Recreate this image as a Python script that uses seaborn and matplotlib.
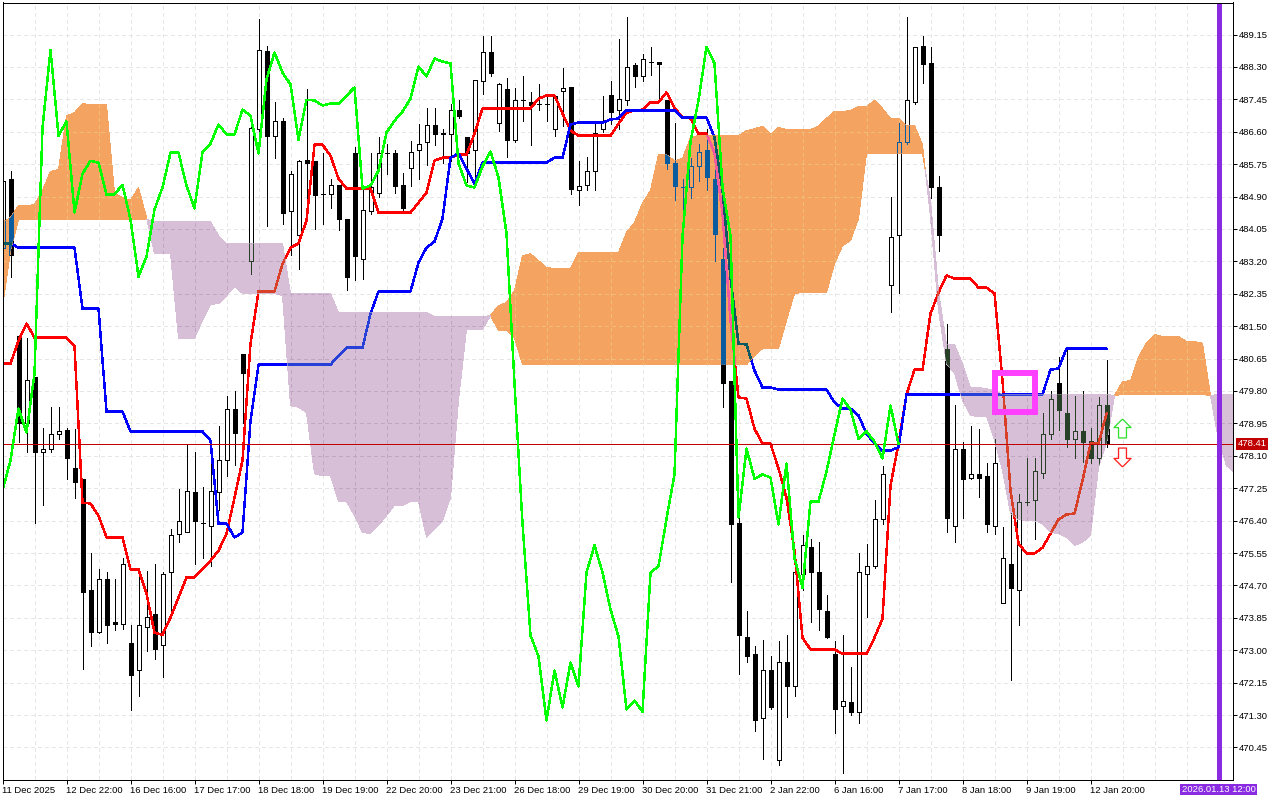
import numpy as np
import pandas as pd
import matplotlib
matplotlib.use("Agg")
import matplotlib.pyplot as plt
from matplotlib.path import Path
from matplotlib.patches import Rectangle
from matplotlib.transforms import blended_transform_factory
import seaborn as sns

# bar values, one entry per H1 bar shown
opens = [483.56, 485.35, 481.25, 478.95, 480.18, 478.21, 478.29, 478.66, 478.79, 477.79,
         477.48, 474.57, 473.49, 474.86, 473.73, 473.70, 473.20, 472.49, 473.60, 473.94,
         473.15, 475.06, 476.06, 476.09, 477.16, 476.35, 476.27, 477.14, 478.00, 479.34,
         480.78, 483.22, 486.66, 488.73, 486.50, 486.89, 484.51, 483.88, 485.87, 485.82,
         484.98, 484.98, 485.21, 484.32, 486.03, 483.27, 484.51, 485.00, 486.05, 486.05,
         485.21, 485.66, 486.13, 486.34, 486.79, 486.58, 486.53, 487.18, 486.45, 486.11,
         487.94, 488.70, 486.84, 487.73, 486.39, 487.42, 487.39, 487.34, 487.34, 486.66,
         487.68, 487.78, 485.08, 485.21, 485.58, 486.66, 487.57, 487.16, 487.44, 488.36,
         488.05, 488.44, 488.44, 487.44, 485.79, 485.14, 485.14, 485.71, 486.11, 485.37,
         483.25, 480.05, 476.35, 473.36, 472.89, 471.21, 472.47, 470.13, 472.70, 472.05,
         475.01, 475.72, 475.04, 474.04, 472.89, 471.55, 471.65, 471.39, 475.01, 475.22,
         476.45, 482.59, 483.90, 486.34, 487.39, 488.86, 488.41, 485.16, 480.91, 476.27,
         478.29, 477.53, 477.61, 477.58, 476.27, 474.23, 475.27, 474.59, 476.90, 476.93,
         477.66, 478.66, 480.00, 479.23, 478.53, 478.76, 478.50, 478.03, 479.42]
highs = [485.32, 485.58, 481.25, 481.18, 480.18, 478.84, 479.39, 479.39, 478.84, 478.81,
         477.48, 475.54, 475.14, 475.06, 474.88, 475.41, 473.65, 475.12, 475.09, 475.27,
         475.06, 476.17, 477.24, 478.40, 478.21, 477.29, 477.98, 478.89, 479.68, 479.81,
         480.78, 486.87, 489.57, 488.86, 487.37, 486.97, 485.58, 485.87, 487.73, 485.82,
         486.05, 485.37, 485.21, 484.32, 486.19, 485.14, 486.05, 486.47, 486.29, 486.11,
         485.53, 486.37, 486.81, 487.21, 487.21, 486.68, 487.34, 487.42, 486.47, 487.97,
         489.12, 489.10, 487.89, 488.02, 487.76, 488.05, 487.63, 487.86, 487.57, 487.57,
         488.26, 487.78, 485.82, 485.95, 486.89, 487.55, 487.92, 489.02, 489.62, 488.41,
         488.65, 488.83, 488.44, 487.44, 486.84, 485.37, 485.90, 486.29, 486.68, 485.61,
         483.56, 480.05, 476.48, 474.02, 473.10, 473.28, 472.86, 473.23, 473.41, 475.27,
         476.03, 475.93, 475.83, 474.46, 473.25, 473.41, 472.57, 475.54, 475.80, 476.95,
         477.82, 484.90, 486.84, 489.62, 488.83, 489.12, 488.81, 485.45, 481.57, 479.42,
         478.47, 478.89, 478.81, 477.92, 478.55, 476.22, 476.61, 477.11, 478.05, 478.05,
         479.23, 479.79, 480.68, 480.91, 479.68, 479.81, 478.84, 479.65, 480.62]
lows = [483.56, 482.80, 478.45, 478.19, 476.35, 476.80, 478.19, 478.55, 477.48, 477.00,
        472.52, 473.12, 473.46, 473.18, 473.52, 473.57, 471.42, 471.81, 472.97, 472.76,
        472.31, 473.96, 475.85, 476.09, 475.27, 475.41, 475.20, 476.69, 477.56, 477.87,
        478.97, 482.88, 486.29, 484.14, 485.92, 484.17, 483.38, 483.01, 484.80, 484.06,
        484.17, 484.59, 484.03, 482.46, 482.70, 482.75, 484.43, 484.90, 485.50, 485.00,
        484.56, 485.19, 485.35, 485.74, 486.26, 485.77, 485.84, 486.97, 485.27, 485.14,
        487.60, 488.05, 486.63, 485.95, 486.34, 486.87, 486.24, 487.18, 486.87, 486.50,
        486.76, 484.98, 484.69, 485.06, 485.08, 486.60, 486.81, 486.68, 487.29, 487.78,
        487.92, 488.10, 487.42, 485.63, 484.82, 484.30, 484.87, 485.32, 485.06, 483.22,
        479.39, 474.78, 472.39, 472.68, 470.89, 470.16, 471.47, 470.00, 471.24, 471.79,
        474.57, 473.73, 473.52, 473.31, 470.84, 469.77, 471.31, 471.10, 473.88, 475.17,
        476.32, 481.86, 482.38, 486.29, 487.34, 487.89, 484.85, 483.48, 476.09, 475.83,
        476.48, 477.50, 477.03, 476.11, 476.06, 474.23, 472.21, 473.67, 476.82, 475.93,
        477.53, 478.53, 478.79, 478.32, 478.03, 477.95, 477.92, 477.87, 478.32]
closes = [485.32, 483.38, 478.95, 480.10, 478.21, 478.29, 478.68, 478.74, 478.05, 477.42,
          474.54, 473.49, 474.88, 473.65, 473.70, 475.25, 472.36, 473.67, 473.88, 473.02,
          475.01, 476.01, 476.40, 477.19, 476.38, 476.35, 477.19, 477.98, 479.34, 478.71,
          480.26, 486.71, 488.75, 486.50, 486.87, 484.48, 485.50, 485.84, 485.79, 484.95,
          484.96, 485.21, 484.30, 482.80, 483.33, 484.56, 485.14, 486.05, 486.05, 485.19,
          484.59, 486.08, 486.29, 486.79, 486.53, 486.53, 487.18, 487.02, 486.03, 487.97,
          488.68, 488.15, 487.84, 486.39, 487.44, 487.42, 487.29, 487.34, 487.34, 487.55,
          487.76, 485.11, 485.19, 485.58, 486.58, 486.89, 487.13, 487.47, 488.31, 488.05,
          488.52, 488.44, 488.39, 485.77, 485.19, 485.14, 485.69, 486.08, 485.40, 483.93,
          480.00, 476.32, 473.39, 472.84, 471.16, 472.47, 471.50, 472.68, 472.05, 475.04,
          475.75, 475.04, 474.07, 473.36, 471.45, 471.68, 471.39, 475.04, 475.20, 476.45,
          477.61, 483.85, 486.34, 487.42, 488.83, 488.39, 485.14, 483.88, 476.48, 478.29,
          477.50, 477.61, 477.53, 476.30, 477.90, 475.41, 474.64, 476.90, 476.90, 477.69,
          478.66, 479.60, 479.31, 478.55, 478.74, 478.47, 478.03, 479.42, 478.41]

# ichimoku lines
tenkan = [480.52, 480.52, 481.12, 481.57, 481.20, 481.20, 481.20, 481.20, 481.20, 480.97,
          476.87, 476.85, 476.53, 475.96, 475.96, 475.96, 475.12, 475.12, 474.49, 473.46,
          473.41, 473.86, 474.38, 474.91, 474.91, 475.14, 475.35, 475.61, 476.06, 477.00,
          477.98, 481.04, 482.41, 482.41, 482.41, 483.14, 483.56, 483.67, 484.27, 486.26,
          486.26, 485.97, 485.37, 485.11, 485.11, 485.11, 485.11, 484.48, 484.48, 484.48,
          484.48, 484.48, 484.74, 485.00, 485.84, 485.92, 485.92, 486.00, 486.00, 486.55,
          487.21, 487.21, 487.21, 487.21, 487.21, 487.21, 487.21, 487.47, 487.55, 487.55,
          487.08, 486.63, 486.50, 486.50, 486.50, 486.50, 486.50, 486.81, 487.10, 487.16,
          487.18, 487.37, 487.37, 487.63, 487.23, 486.97, 486.95, 486.55, 486.55, 486.05,
          484.45, 481.65, 479.63, 479.60, 478.81, 478.42, 478.42, 477.77, 477.00, 475.61,
          473.33, 473.02, 473.02, 473.02, 473.02, 472.91, 472.91, 472.91, 472.91, 473.33,
          473.83, 477.32, 478.42, 479.71, 480.36, 480.36, 481.83, 482.38, 482.83, 482.75,
          482.75, 482.75, 482.51, 482.51, 482.36, 480.07, 477.19, 475.80, 475.54, 475.54,
          475.69, 476.06, 476.43, 476.56, 476.59, 477.45, 478.42, 478.42, 479.21]
kijun = [483.67, 483.67, 483.56, 483.56, 483.56, 483.56, 483.56, 483.56, 483.56, 483.56,
         481.96, 481.96, 481.96, 479.26, 479.26, 479.26, 478.74, 478.74, 478.74, 478.74,
         478.74, 478.74, 478.74, 478.74, 478.74, 478.74, 478.50, 476.32, 476.32, 475.96,
         476.09, 479.02, 480.49, 480.49, 480.49, 480.49, 480.49, 480.49, 480.49, 480.49,
         480.49, 480.49, 480.73, 480.94, 480.94, 480.94, 481.83, 482.41, 482.41, 482.41,
         482.41, 482.41, 483.17, 483.56, 483.72, 484.32, 485.92, 486.03, 485.63, 485.24,
         485.79, 485.79, 485.79, 485.79, 485.79, 485.79, 485.79, 485.79, 485.79, 485.92,
         485.92, 486.79, 486.84, 486.84, 486.84, 486.84, 486.92, 486.95, 487.16, 487.16,
         487.16, 487.16, 487.16, 487.16, 487.16, 486.97, 486.97, 486.97, 486.97, 486.45,
         485.06, 482.78, 481.04, 481.02, 480.34, 479.89, 479.89, 479.84, 479.84, 479.84,
         479.84, 479.84, 479.84, 479.84, 479.50, 479.34, 479.34, 479.16, 478.68, 478.42,
         478.24, 478.24, 478.32, 479.71, 479.71, 479.71, 479.71, 479.71, 479.71, 479.71,
         479.71, 479.71, 479.71, 479.71, 479.71, 479.71, 479.71, 479.71, 479.71, 479.71,
         479.71, 480.36, 480.39, 480.91, 480.91, 480.91, 480.91, 480.91, 480.91]
chikou = [477.19, 477.98, 479.34, 478.71, 480.26, 486.71, 488.75, 486.50, 486.87, 484.48,
          485.50, 485.84, 485.79, 484.95, 484.96, 485.21, 484.30, 482.80, 483.33, 484.56,
          485.14, 486.05, 486.05, 485.19, 484.59, 486.08, 486.29, 486.79, 486.53, 486.53,
          487.18, 487.02, 486.03, 487.97, 488.68, 488.15, 487.84, 486.39, 487.44, 487.42,
          487.29, 487.34, 487.34, 487.55, 487.76, 485.11, 485.19, 485.58, 486.58, 486.89,
          487.13, 487.47, 488.31, 488.05, 488.52, 488.44, 488.39, 485.77, 485.19, 485.14,
          485.69, 486.08, 485.40, 483.93, 480.00, 476.32, 473.39, 472.84, 471.16, 472.47,
          471.50, 472.68, 472.05, 475.04, 475.75, 475.04, 474.07, 473.36, 471.45, 471.68,
          471.39, 475.04, 475.20, 476.45, 477.61, 483.85, 486.34, 487.42, 488.83, 488.39,
          485.14, 483.88, 476.48, 478.29, 477.50, 477.61, 477.53, 476.30, 477.90, 475.41,
          474.64, 476.90, 476.90, 477.69, 478.66, 479.60, 479.31, 478.55, 478.74, 478.47,
          478.03, 479.42, 478.41]
span_a = [484.22, 484.35, 484.66, 484.66, 484.69, 485.06, 485.56, 485.61, 487.02, 487.10,
          487.34, 487.31, 487.31, 487.31, 484.98, 484.87, 484.80, 485.14, 484.35,
          483.40, 483.40, 483.40, 481.18, 481.18, 481.18, 481.65, 482.07, 482.09, 482.30,
          482.54, 482.36, 482.36, 482.36, 482.36, 482.36, 482.30,
          479.42, 479.37, 479.23, 477.63, 477.58, 477.58, 476.90, 476.90, 476.53, 476.09,
          476.06, 476.27, 476.53, 476.80, 476.80, 476.90, 476.90, 475.96, 476.19, 476.40,
          477.00, 479.55, 481.41, 481.41, 481.41, 481.78,
          482.04, 482.12, 482.43, 483.35, 483.40, 483.22, 483.04, 483.01, 483.01, 483.01,
          483.43, 483.43, 483.43, 483.43, 483.43, 483.43, 483.96, 484.22, 484.72, 485.06,
          486.00, 486.00, 485.84, 485.90, 486.45, 486.50, 486.50, 486.50, 486.50, 486.50,
          486.50, 486.63, 486.68, 486.74, 486.53, 486.71, 486.66, 486.66, 486.66, 486.66,
          486.74, 486.95, 487.13, 487.13, 487.16, 487.26, 487.26, 487.42, 487.21, 486.95,
          486.95, 486.76, 486.76, 486.26,
          484.35, 481.91, 480.52, 480.26, 479.55, 479.16, 479.13, 479.13, 478.50, 477.71,
          476.59, 476.43, 476.40, 476.40, 476.32, 476.09, 476.06, 475.96, 475.75, 475.83,
          476.01, 477.79, 478.42, 479.68,
          480.05, 480.07, 480.68, 481.07, 481.28, 481.23, 481.23, 481.23, 481.10, 481.10,
          481.05, 479.68, 478.50, 477.84, 477.66]
span_b = [481.99, 483.48, 484.30, 484.30, 484.30, 484.30, 484.30, 484.30, 484.30, 484.30,
          484.30, 484.30, 484.30, 484.30, 484.30, 484.30, 484.30, 484.30, 484.30,
          484.24, 484.24, 484.24, 484.24, 484.24, 484.24, 484.24, 484.24, 483.88,
          483.67, 483.67, 483.67, 483.67, 483.67, 483.67, 483.67, 483.67,
          482.36, 482.36, 482.36, 482.36, 482.36, 482.36,
          481.86, 481.86, 481.86, 481.86, 481.86, 481.86, 481.86, 481.86, 481.86, 481.86, 481.86, 481.86,
          481.75, 481.75, 481.75, 481.75, 481.75, 481.75, 481.75, 481.78,
          481.39, 481.39, 481.20,
          480.49, 480.49, 480.49, 480.49, 480.49, 480.49, 480.49, 480.49, 480.49, 480.49,
          480.49, 480.49, 480.49, 480.49, 480.49, 480.49, 480.49, 480.49, 480.49, 480.49,
          480.49, 480.49, 480.49, 480.49, 480.49, 480.49, 480.49, 480.49, 480.49,
          480.73, 480.91, 480.91, 480.91, 481.65, 482.36, 482.38, 482.38, 482.38, 482.38,
          483.14, 483.61, 483.75, 484.32,
          486.03, 486.03, 486.03, 486.03, 486.03, 486.03, 486.03, 486.03,
          484.80, 482.43, 481.02, 481.02, 480.52, 479.89, 479.89, 479.86, 479.81,
          479.71, 479.71, 479.71, 479.71, 479.71, 479.71, 479.71, 479.71, 479.71, 479.71,
          479.71, 479.71, 479.71, 479.71, 479.68,
          479.71, 479.71, 479.71, 479.71, 479.71, 479.71, 479.71, 479.71, 479.71, 479.71, 479.71,
          479.68, 479.71, 479.71, 479.71]

# axis labels and single objects
price_ticks = [489.15, 488.30, 487.45, 486.60, 485.75, 484.90, 484.05, 483.20, 482.35, 481.50, 480.65, 479.80,
               478.95, 478.10, 477.25, 476.40, 475.55, 474.70, 473.85, 473.00, 472.15, 471.30, 470.45]
time_labels = ["11 Dec 2025", "12 Dec 22:00", "16 Dec 16:00", "17 Dec 17:00", "18 Dec 18:00", "19 Dec 19:00",
               "22 Dec 20:00", "23 Dec 21:00", "26 Dec 18:00", "29 Dec 19:00", "30 Dec 20:00", "31 Dec 21:00",
               "2 Jan 22:00", "6 Jan 16:00", "7 Jan 17:00", "8 Jan 18:00", "9 Jan 19:00", "12 Jan 20:00"]
last_price = 478.41
cursor_bar = 152
cursor_label = "2026.01.13 12:00"
box_bars = [124.0, 129.05]
box_prices = [479.25, 480.28]
arrow_bar = 139.9
arrow_up_price = 478.84
arrow_down_price = 478.07

ORANGE = "#F4A460"
THISTLE = "#D8BFD8"

sns.set_theme(style="white")
plt.rcParams["font.family"] = ["Liberation Sans", "DejaVu Sans"]
PX = 0.72  # one pixel in points at dpi 100
FONT = 6.8

barre = pd.DataFrame({"bar": np.arange(len(opens)), "open": opens, "high": highs, "low": lows, "close": closes,
                      "tenkan": tenkan, "kijun": kijun})
nuvola = pd.DataFrame({"bar": np.arange(len(span_a)), "a": span_a, "b": span_b})
ritardo = pd.DataFrame({"bar": np.arange(len(chikou)), "chikou": chikou})


def xor_colore(colore, maschera):
    # the terminal paints the cloud in xor mode, so what lies under it changes colour
    c = int(colore[1:], 16)
    m = int(maschera[1:], 16) ^ 0xFFFFFF
    return f"#{c ^ m:06X}"


def disegna_strato(ax, tinta, z, clip=None):
    # grid, candles, tenkan and kijun: the same layer is drawn plain and then xored inside the clouds
    artisti = []
    griglia = dict(colors=tinta("#E6E6E6"), linewidth=PX, linestyles=(0, (4, 3)), zorder=z, antialiased=False)
    artisti.append(ax.vlines(np.arange(0, cursor_bar + 1, 4), 469.61, 489.99, **griglia))
    artisti.append(ax.hlines(price_ticks, 0, 153.75, **griglia))
    artisti.append(ax.vlines(barre["bar"], barre["low"], barre["high"], colors=tinta("#000000"), linewidth=PX,
                             zorder=z + 0.1, antialiased=False))
    salita = barre["close"] >= barre["open"]
    facce = [tinta("#FFFFFF") if s else tinta("#000000") for s in salita]
    corpi = ax.bar(barre["bar"], (barre["close"] - barre["open"]).abs(), bottom=barre[["open", "close"]].min(axis=1),
                   width=0.5, color=facce, edgecolor=tinta("#000000"), linewidth=PX, zorder=z + 0.2, antialiased=False)
    artisti.extend(corpi.patches)
    for colonna, colore in [("tenkan", "#FF0000"), ("kijun", "#0000FF")]:
        sns.lineplot(data=barre, x="bar", y=colonna, color=tinta(colore), linewidth=1.45 * PX, ax=ax, sort=False,
                     errorbar=None, legend=False, zorder=z + 0.3, antialiased=False)
        artisti.append(ax.lines[-1])
    if clip is not None:
        for a in artisti:
            a.set_clip_path(clip, ax.transData)


fig = plt.figure(figsize=(12.8, 8), dpi=100, facecolor="white")
ax = fig.add_axes([2.5 / 1280, 1 - 779.5 / 800, 1230 / 1280, 777 / 800])
ax.set_xlim(0, 153.75)
ax.set_ylim(469.61, 489.99)

disegna_strato(ax, lambda c: c, 1)

# kumo
a = nuvola["a"].to_numpy()
b = nuvola["b"].to_numpy()
for colore, dove in [(ORANGE, a >= b), (THISTLE, a <= b)]:
    area = ax.fill_between(nuvola["bar"], a, b, where=dove, interpolate=True, color=colore, linewidth=0,
                           zorder=3, antialiased=False)
    forma = Path.make_compound_path(*area.get_paths())
    disegna_strato(ax, lambda c, m=colore: xor_colore(c, m), 4, clip=forma)

ax.axhline(last_price, color="#C00000", linewidth=PX, zorder=5.5, antialiased=False)

sns.lineplot(data=ritardo, x="bar", y="chikou", color="#00FF00", linewidth=1.45 * PX, ax=ax, sort=False,
             errorbar=None, legend=False, zorder=6, antialiased=False)

# objects on the chart
ax.axvline(cursor_bar, color="#8A2BE2", linewidth=5 * PX, zorder=7, antialiased=False)
ax.add_patch(Rectangle((box_bars[0], box_prices[0]), box_bars[1] - box_bars[0], box_prices[1] - box_prices[0],
                       fill=False, edgecolor="#FF40FF", linewidth=4.4 * PX, joinstyle="miter", zorder=6.5,
                       antialiased=False))
freccia = [(0, 1), (0.9, 0.1), (0.42, 0.1), (0.42, -1), (-0.42, -1), (-0.42, 0.1), (-0.9, 0.1), (0, 1)]
freccia_giu = [(x, -y) for x, y in freccia]
ax.scatter([arrow_bar], [arrow_up_price], marker=freccia, s=185, facecolor="white", edgecolor="#30E030",
           linewidth=1.3 * PX, zorder=7)
ax.scatter([arrow_bar], [arrow_down_price], marker=freccia_giu, s=185, facecolor="white", edgecolor="#FF2020",
           linewidth=1.3 * PX, zorder=7)

# axes
ax.yaxis.tick_right()
ax.set_yticks(price_ticks)
ax.set_yticklabels([f"{p:.2f}" for p in price_ticks])
ax.set_xticks(np.arange(0, len(time_labels) * 8, 8))
ax.set_xticklabels(time_labels, ha="left")
ax.tick_params(axis="y", length=3, width=PX, pad=1.2, labelsize=FONT, color="black", labelcolor="black", right=True)
ax.tick_params(axis="x", length=3, width=PX, pad=1.5, labelsize=FONT, color="black", labelcolor="black", bottom=True)
ax.set_xlabel("")
ax.set_ylabel("")
for spine in ax.spines.values():
    spine.set_visible(True)
    spine.set_color("black")
    spine.set_linewidth(PX)
    spine.set_zorder(10)

ax.text(1.0159, last_price, f"{last_price:.2f}", transform=blended_transform_factory(ax.transAxes, ax.transData),
        ha="center", va="center", color="white", fontsize=FONT, clip_on=False,
        bbox=dict(boxstyle="square,pad=0.15", facecolor="#C00000", edgecolor="none"))
ax.text(cursor_bar, -0.0129, cursor_label, transform=ax.get_xaxis_transform(), ha="center", va="center",
        color="white", fontsize=FONT, clip_on=False,
        bbox=dict(boxstyle="square,pad=0.15", facecolor="#8A2BE2", edgecolor="none"))

fig.savefig("out.png", dpi=100)
